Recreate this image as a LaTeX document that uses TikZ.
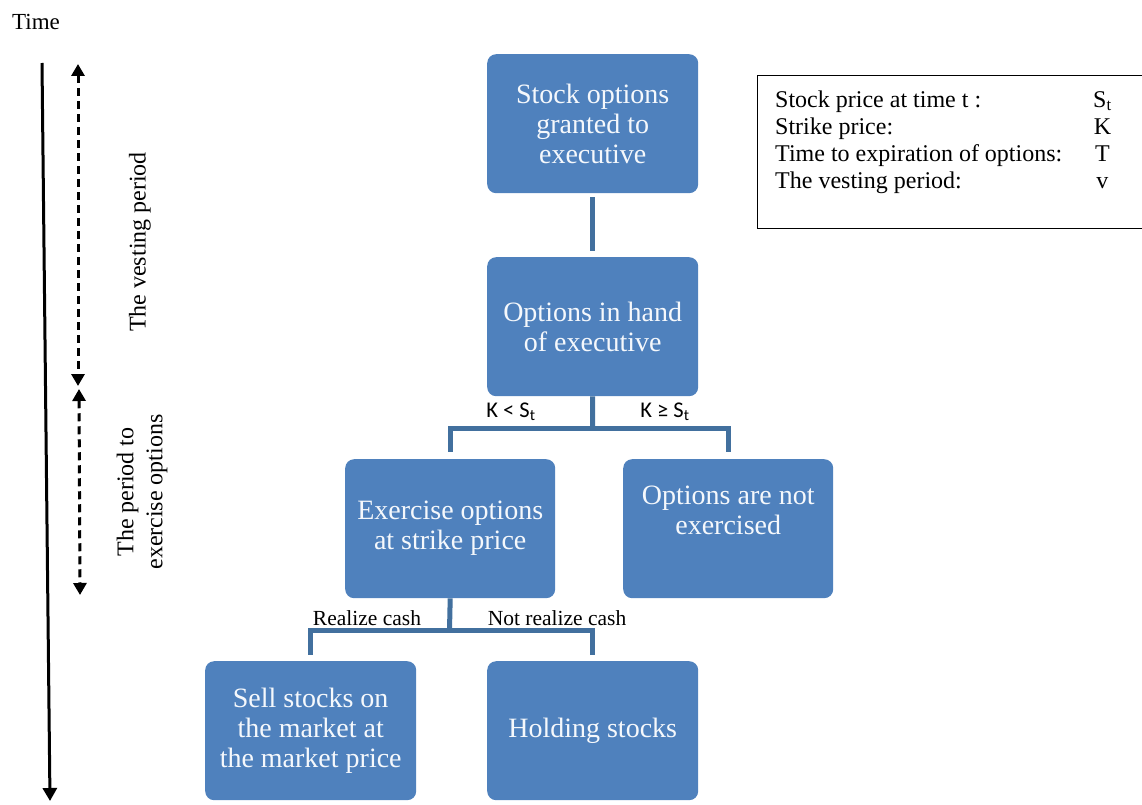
\documentclass[tikz,border=0pt]{standalone}
\usepackage{fontspec}
\setmainfont{Liberation Serif}
\newfontfamily\calfont{Carlito}
\usetikzlibrary{arrows.meta}
\definecolor{boxblue}{RGB}{79,129,189}
\definecolor{lineblue}{RGB}{66,112,158}
\definecolor{boxtext}{RGB}{245,248,252}
\begin{document}
\begin{tikzpicture}[x=1pt,y=-1pt,
  box/.style={fill=boxblue, rounded corners=9pt, text=boxtext, align=center,
    font=\fontsize{28}{30}\selectfont, minimum width=211pt, minimum height=139pt,
    inner sep=0pt, anchor=north west},
  conn/.style={draw=lineblue, line width=5pt},
  branchlbl/.style={font=\calfont\fontsize{22.5}{24}\selectfont, inner sep=0pt},
  caselbl/.style={font=\fontsize{21.5}{24}\selectfont, inner sep=0pt},
  sidelbl/.style={font=\fontsize{24}{29}\selectfont, rotate=90, align=center, inner sep=0pt},
  dasharrow/.style={line width=3pt, dash pattern=on 8pt off 5pt,
    {Triangle[width=13pt,length=12pt]}-{Triangle[width=13pt,length=12pt]}}
]
\useasboundingbox (0,0) rectangle (1142,805);

% time axis
\node[font=\fontsize{23}{26}\selectfont, inner sep=0pt] (time) at (36,22) {Time};
\coordinate (ttop) at (42,63);
\coordinate (tbot) at (50,801);
\draw[line width=3pt, -{Triangle[width=14pt,length=13pt]}] (ttop) -- (tbot);

% period arrows
\coordinate (v1) at (78,64);
\coordinate (v2) at (78,386);
\coordinate (p1) at (79,389);
\coordinate (p2) at (80,595);
\draw[dasharrow] (v1) -- (v2);
\draw[dasharrow] (p1) -- (p2);
\node[sidelbl] (vest) at (140,242) {The vesting period};
\node[sidelbl] (exper) at (142,492) {The period to\\exercise options};

% boxes
\node[box] (b1) at (487,54) {Stock options\\granted to\\executive};
\node[box] (b2) at (487,257) {Options in hand\\of executive};
\node[box, minimum width=210pt] (b3) at (345,459) {Exercise options\\at strike price};
\node[box, minimum width=210pt] (b4) at (623,459) {Options are not\\exercised\\[6pt]\mbox{}};
\node[box] (b5) at (205,661) {Sell stocks on\\the market at\\the market price};
\node[box] (b6) at (487,661) {Holding stocks};

% connectors
\coordinate (j1) at (592.5,428);
\coordinate (j2) at (449.5,630);
\draw[conn, shorten <=4pt, shorten >=6pt] (b1.south) -- (b2.north);
\draw[conn] (b2.south) -- (j1);
\draw[conn, shorten >=7pt] (j1) -| (b3.north);
\draw[conn, shorten >=7pt] (j1) -| (b4.north);
\draw[conn] (b3.south) -- (j2);
\draw[conn, shorten >=6pt] (j2) -| (b5.north);
\draw[conn, shorten >=6pt] (j2) -| (b6.north);

% branch labels
\node[branchlbl] (lt) at (511,412) {K < S\textsubscript{t}};
\node[branchlbl] (ge) at (665,412) {K ≥ S\textsubscript{t}};
\node[caselbl] (rc) at (367,618) {Realize cash};
\node[caselbl] (nrc) at (557,618) {Not realize cash};

% legend
\node[draw, line width=1.4pt, minimum width=420pt, minimum height=153pt,
  anchor=north west, inner sep=0pt] (leg) at (757,75) {};
\node[anchor=north west, inner sep=0pt, font=\fontsize{24}{27}\selectfont] (legt) at (775,88) {%
  \begin{tabular}{@{}p{318pt}@{}c@{}}
  Stock price at time t : & S\textsubscript{t}\\
  Strike price: & K\\
  Time to expiration of options: & T\\
  The vesting period: & v
  \end{tabular}};
\end{tikzpicture}
\end{document}
